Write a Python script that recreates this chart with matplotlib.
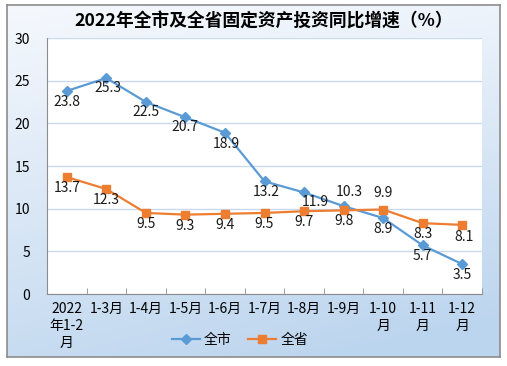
import matplotlib.pyplot as plt
import numpy as np

plt.rcParams['font.family'] = ['Noto Sans CJK SC', 'DejaVu Sans']

# dati
months = ['2022\n年1-2\n月', '1-3月', '1-4月', '1-5月', '1-6月', '1-7月',
          '1-8月', '1-9月', '1-10\n月', '1-11\n月', '1-12\n月']
city = [23.8, 25.3, 22.5, 20.7, 18.9, 13.2, 11.9, 10.3, 8.9, 5.7, 3.5]
province = [13.7, 12.3, 9.5, 9.3, 9.4, 9.5, 9.7, 9.8, 9.9, 8.3, 8.1]
yticks = [0, 5, 10, 15, 20, 25, 30]

# posizione etichette (offset in punti)
city_off = [(0, -8), (1, -7), (0, -7), (0, -7), (1, -8), (1, -8), (8, -7), (4, 10), (0, -8), (0, -8), (0, -8)]
prov_off = [(0, -8), (0, -8), (0, -8), (0, -8), (0, -8), (0, -8), (0, -8), (0, -8), (0, 12), (0, -8), (1, -9)]

fig = plt.figure(figsize=(5.07, 3.66), dpi=100)

# sfondo sfumato con bordo
bg = fig.add_axes([7 / 507, 1 - 357 / 366, 493 / 507, 352 / 366], zorder=-10)
yy, xx = np.mgrid[0:1:200j, 0:1:200j]
t = np.clip(0.8 * yy + 0.3 * xx * (1 - 0.6 * (1 - yy)), 0, 1)
top = np.array([245, 248, 253]) / 255
bot = np.array([188, 213, 238]) / 255
img = top + (bot - top) * t[..., None]
bg.imshow(img, aspect='auto', extent=[0, 1, 0, 1], origin='upper')
bg.set_xlim(0, 1)
bg.set_ylim(0, 1)
bg.set_xticks([])
bg.set_yticks([])
for s in bg.spines.values():
    s.set_color('#8c8c8c')
    s.set_linewidth(1.2)

ax = fig.add_axes([47 / 507, 1 - 294 / 366, 435 / 507, 256 / 366])
ax.set_facecolor('white')
x = np.arange(len(months))

ax.plot(x, city, color='#5b9bd5', linewidth=1.6, marker='D', markersize=5,
        label='全市', zorder=3)
ax.plot(x, province, color='#ed7d31', linewidth=1.6, marker='s', markersize=6,
        label='全省', zorder=3)

for i in range(len(x)):
    ax.annotate(f'{city[i]}', (x[i], city[i]), xytext=city_off[i],
                textcoords='offset points', ha='center', va='center',
                fontsize=10, color='#1a1a1a', zorder=4)
    ax.annotate(f'{province[i]}', (x[i], province[i]), xytext=prov_off[i],
                textcoords='offset points', ha='center', va='center',
                fontsize=10, color='#1a1a1a', zorder=4)

ax.set_xlim(-0.5, len(months) - 0.5)
ax.set_ylim(0, 30)
ax.set_yticks(yticks)
ax.set_yticklabels([str(v) for v in yticks], fontsize=10)
ax.set_xticks(x)
ax.set_xticklabels(months, fontsize=10, linespacing=1.25, va='top')
ax.set_xticks(np.arange(-0.5, len(months), 1), minor=True)
ax.tick_params(axis='x', which='major', length=0, pad=6)
ax.tick_params(axis='x', which='minor', direction='in', length=4, color='#8c8c8c')
ax.tick_params(axis='y', length=0, pad=12)

ax.grid(axis='y', color='#c9d9ee', linewidth=1)
ax.set_axisbelow(True)
for side in ['top', 'right']:
    ax.spines[side].set_visible(False)
ax.spines['left'].set_color('#8c8c8c')
ax.spines['bottom'].set_color('#8c8c8c')

fig.text(0.52, 1 - 22 / 366, '2022年全市及全省固定资产投资同比增速（%）',
         ha='center', va='center', fontsize=12.8, fontweight='bold')

fig.legend(loc='center', bbox_to_anchor=(240 / 507, 1 - 340 / 366), ncol=2,
           frameon=False, fontsize=10, handlelength=2.0, columnspacing=1.2,
           handletextpad=0.3)

plt.savefig('out.png', dpi=100)
